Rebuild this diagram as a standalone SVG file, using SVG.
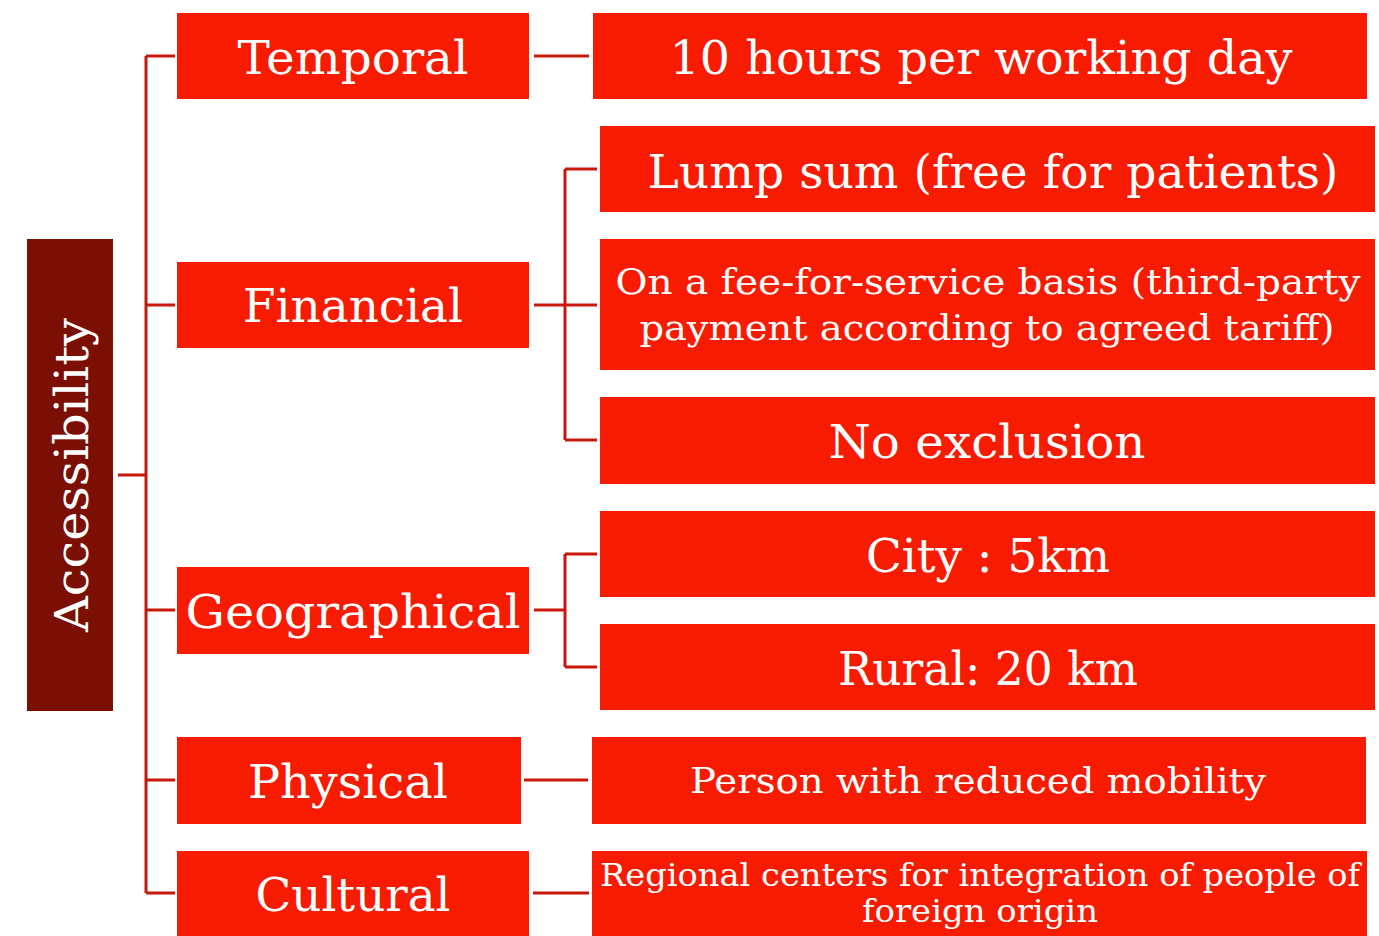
<svg xmlns="http://www.w3.org/2000/svg" width="1379" height="936" viewBox="0 0 1379 936">
<style>
.box{fill:#F71B02;}
.root{fill:#7B0F03;}
.t{font-family:"DejaVu Serif","Liberation Serif",serif;fill:#fff;text-anchor:middle;}
.l{font-size:46px;}
.m{font-size:36px;}
.s{font-size:31px;}
.c{fill:none;stroke:#C8170B;stroke-width:3;}
</style>
<rect width="1379" height="936" fill="#fff"/>
<g id="connectors">
<path class="c" d="M118,475 H146 M146,56 V893 M146,56 H175 M146,305 H175 M146,610 H175 M146,780 H175 M146,893 H175"/>
<path class="c" d="M534,56 H589"/>
<path class="c" d="M534,305 H565 M565,169 V440 M565,169 H597 M565,305 H597 M565,440 H597"/>
<path class="c" d="M534,610 H565 M565,554 V667 M565,554 H597 M565,667 H597"/>
<path class="c" d="M524,780 H588"/>
<path class="c" d="M533,893 H589"/>
</g>
<g id="accessibility">
<rect class="root" x="27" y="239" width="86" height="472"/>
<text class="t l" transform="translate(88,475) rotate(-90)" textLength="314" lengthAdjust="spacingAndGlyphs">Accessibility</text>
</g>
<g id="temporal">
<rect class="box" x="177" y="13" width="352" height="86"/>
<text class="t l" x="353" y="74" textLength="231" lengthAdjust="spacingAndGlyphs">Temporal</text>
</g>
<g id="financial">
<rect class="box" x="177" y="262" width="352" height="86"/>
<text class="t l" x="353" y="322" textLength="220" lengthAdjust="spacingAndGlyphs">Financial</text>
</g>
<g id="geographical">
<rect class="box" x="177" y="567" width="352" height="87"/>
<text class="t l" x="353" y="628" textLength="335" lengthAdjust="spacingAndGlyphs">Geographical</text>
</g>
<g id="physical">
<rect class="box" x="177" y="737" width="344" height="87"/>
<text class="t l" x="348" y="798" textLength="200" lengthAdjust="spacingAndGlyphs">Physical</text>
</g>
<g id="cultural">
<rect class="box" x="177" y="851" width="352" height="85"/>
<text class="t l" x="353" y="911" textLength="195" lengthAdjust="spacingAndGlyphs">Cultural</text>
</g>
<g id="hours">
<rect class="box" x="593" y="13" width="774" height="86"/>
<text class="t l" x="981" y="74" textLength="623" lengthAdjust="spacingAndGlyphs">10 hours per working day</text>
</g>
<g id="lumpsum">
<rect class="box" x="600" y="126" width="775" height="86"/>
<text class="t l" x="993" y="188" textLength="691" lengthAdjust="spacingAndGlyphs">Lump sum (free for patients)</text>
</g>
<g id="feeforservice">
<rect class="box" x="600" y="239" width="775" height="131"/>
<text class="t m" x="988" y="294" textLength="745" lengthAdjust="spacingAndGlyphs">On a fee-for-service basis (third-party</text>
<text class="t m" x="987" y="340" textLength="695" lengthAdjust="spacingAndGlyphs">payment according to agreed tariff)</text>
</g>
<g id="noexclusion">
<rect class="box" x="600" y="397" width="775" height="87"/>
<text class="t l" x="987" y="458" textLength="317" lengthAdjust="spacingAndGlyphs">No exclusion</text>
</g>
<g id="city">
<rect class="box" x="600" y="511" width="775" height="86"/>
<text class="t l" x="988" y="572" textLength="244" lengthAdjust="spacingAndGlyphs">City : 5km</text>
</g>
<g id="rural">
<rect class="box" x="600" y="624" width="775" height="86"/>
<text class="t l" x="988" y="685" textLength="300" lengthAdjust="spacingAndGlyphs">Rural: 20 km</text>
</g>
<g id="person">
<rect class="box" x="592" y="737" width="774" height="87"/>
<text class="t m" x="978" y="793" textLength="576" lengthAdjust="spacingAndGlyphs">Person with reduced mobility</text>
</g>
<g id="regional">
<rect class="box" x="592" y="851" width="775" height="85"/>
<text class="t s" x="980" y="886" textLength="760" lengthAdjust="spacingAndGlyphs">Regional centers for integration of people of</text>
<text class="t s" x="980" y="922" textLength="236" lengthAdjust="spacingAndGlyphs">foreign origin</text>
</g>
</svg>
